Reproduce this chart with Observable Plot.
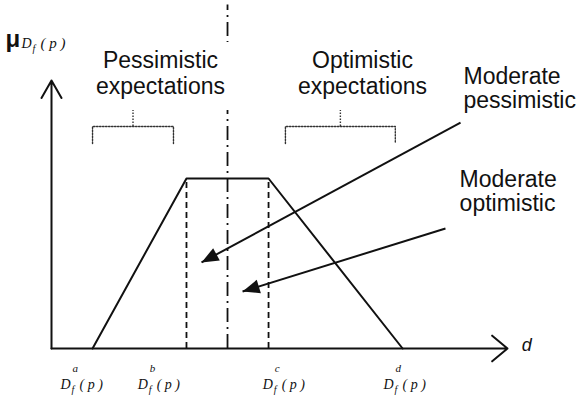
<!DOCTYPE html>
<html><head><meta charset="utf-8">
<script src="https://cdn.jsdelivr.net/npm/d3@7"></script>
<script src="https://cdn.jsdelivr.net/npm/@observablehq/plot@0.6"></script>
<style>body{margin:0;background:#fff}</style>
</head><body><div id="chart"></div>
<script>
// ---- data (x in d-units 0..100 along the axis, y = membership mu) ----
const breakNames = ["a", "b", "c", "d"];
const breakX = [9.0, 29.6, 47.6, 77.0];
const breakMu = [0, 1, 1, 0];
const centerX = 38.6;
const axisEndX = 100;
const axisEndMu = 1.576;
const dashDotTopMu = 2.02;
const tickLabelX = [2.0, 18.9, 46.3, 72.8];
const tickLabelMu = -0.241;
const groupNames = ["Pessimistic\nexpectations", "Optimistic\nexpectations"];
const groupCenterX = [23.9, 68.2];
const groupLabelMu = 1.50;
const bracketX1 = [9.0, 51.3];
const bracketX2 = [26.75, 75.4];
const bracketMu = 1.306;
const bracketEndMu = 1.206;
const bracketTickMu = 1.40;
const labelBoxX = [8.6, 39.7];
const labelBoxMu = [1.40, 1.80];
const moderateNames = ["Moderate\npessimistic", "Moderate\noptimistic"];
const moderateLabelX = [90.35, 89.5];
const moderateLabelMu = [1.412, 0.806];
const arrowFromX = [89.7, 86.4];
const arrowFromMu = [1.329, 0.706];
const arrowToX = [32.9, 41.9];
const arrowToMu = [0.506, 0.335];
const muLabelX = -10.1;
const muLabelMu = 1.771;
const dLabelX = 103.1;
const dLabelMu = -0.012;

// ---- build ----
const xDom = [0, 100], xRng = [51, 507];
const yDom = [0, 1], yRng = [348, 178];
const sx = d3.scaleLinear(xDom, xRng), sy = d3.scaleLinear(yDom, yRng);
const ink = "#111";
const sans = "Liberation Sans, Arial, Helvetica, sans-serif";
const serif = "Liberation Serif, Times New Roman, serif";

const trap = breakX.map((x, i) => ({x, mu: breakMu[i]}));
const brackets = [];
bracketX1.forEach((x1, i) => {
  const x2 = bracketX2[i];
  [[x1, bracketEndMu], [x1, bracketMu], [x2, bracketMu], [x2, bracketEndMu]]
    .forEach(([x, mu]) => brackets.push({x, mu, g: i}));
});
const bracketMid = bracketX1.map((x1, i) => (x1 + bracketX2[i]) / 2);
const arrows = arrowFromX.map((x1, i) => {
  const x2 = arrowToX[i], y1 = arrowFromMu[i], y2 = arrowToMu[i];
  const dx = sx(x2) - sx(x1), dy = sy(y2) - sy(y1);
  return {x1, y1, x2, y2, rot: Math.atan2(dx, -dy) * 180 / Math.PI};
});
const head = {draw(ctx) { ctx.moveTo(0, 0); ctx.lineTo(-7, 17); ctx.lineTo(7, 17); ctx.closePath(); }};
const groups = groupNames.map((t, i) => ({t, x: groupCenterX[i], mu: groupLabelMu}));
const moderates = moderateNames.map((t, i) => ({t, x: moderateLabelX[i], mu: moderateLabelMu[i]}));
const ticks = breakNames.map((n, i) => ({n, x: tickLabelX[i], mu: tickLabelMu}));
const one = [{}];

const chart = Plot.plot({
  width: 588, height: 405, margin: 0,
  x: {domain: xDom, range: xRng, axis: null},
  y: {domain: yDom, range: yRng, axis: null},
  style: {background: "white", overflow: "visible"},
  marks: [
    Plot.ruleX([centerX], {x: d => d, y1: () => 0, y2: () => dashDotTopMu, stroke: ink, strokeWidth: 1.8, strokeDasharray: "14,5,2,5"}),
    Plot.rect(one, {x1: () => labelBoxX[0], x2: () => labelBoxX[1], y1: () => labelBoxMu[0], y2: () => labelBoxMu[1], fill: "white"}),
    Plot.ruleX([breakX[1], breakX[2]], {x: d => d, y1: () => 0, y2: () => 1, stroke: ink, strokeWidth: 1.8, strokeDasharray: "6,4"}),
    Plot.line(trap, {x: "x", y: "mu", stroke: ink, strokeWidth: 2}),
    Plot.arrow(one, {x1: () => 0, y1: () => 0, x2: () => 0, y2: () => axisEndMu, stroke: ink, strokeWidth: 2, headLength: 15, headAngle: 60}),
    Plot.arrow(one, {x1: () => 0, y1: () => 0, x2: () => axisEndX, y2: () => 0, stroke: ink, strokeWidth: 2, headLength: 15, headAngle: 80}),
    Plot.line(brackets, {x: "x", y: "mu", z: "g", stroke: "#333", strokeWidth: 1.4, strokeDasharray: "1.5,1.5"}),
    Plot.ruleX(bracketMid, {x: d => d, y1: () => bracketMu, y2: () => bracketTickMu, stroke: "#333", strokeWidth: 1.4, strokeDasharray: "1.5,1.5"}),
    Plot.link(arrows, {x1: "x1", y1: "y1", x2: "x2", y2: "y2", stroke: ink, strokeWidth: 2}),
    Plot.dot(arrows, {x: "x2", y: "y2", symbol: head, rotate: "rot", fill: ink, stroke: "none", r: 5}),
    Plot.text(groups, {x: "x", y: "mu", text: "t", lineAnchor: "bottom", lineHeight: 1.13, textAnchor: "middle", fontSize: 23, fontFamily: sans, fill: ink}),
    Plot.text(moderates, {x: "x", y: "mu", text: "t", lineAnchor: "bottom", lineHeight: 1.05, textAnchor: "start", fontSize: 23, fontFamily: sans, fill: ink}),
    Plot.text(one, {x: () => dLabelX, y: () => dLabelMu, text: () => "d", lineAnchor: "bottom", textAnchor: "start", fontSize: 18, fontStyle: "italic", fontFamily: sans, fill: ink}),
    // mu label
    Plot.text(one, {x: () => muLabelX, y: () => muLabelMu, text: () => "μ", lineAnchor: "bottom", textAnchor: "start", fontSize: 24, fontWeight: "bold", fontFamily: sans, fill: ink}),
    Plot.text(one, {x: () => muLabelX, y: () => muLabelMu, text: () => "D", dx: 16, dy: 1, lineAnchor: "bottom", textAnchor: "start", fontSize: 14, fontStyle: "italic", fontFamily: serif, fill: ink}),
    Plot.text(one, {x: () => muLabelX, y: () => muLabelMu, text: () => "f", dx: 27, dy: 5, lineAnchor: "bottom", textAnchor: "start", fontSize: 10, fontStyle: "italic", fontFamily: serif, fill: ink}),
    Plot.text(one, {x: () => muLabelX, y: () => muLabelMu, text: () => "( p )", dx: 35, dy: 1, lineAnchor: "bottom", textAnchor: "start", fontSize: 15, fontStyle: "italic", fontFamily: serif, fill: ink}),
    // tick labels D_f^x(p)
    Plot.text(ticks, {x: "x", y: "mu", text: () => "D", lineAnchor: "bottom", textAnchor: "start", fontSize: 14, fontStyle: "italic", fontFamily: serif, fill: ink}),
    Plot.text(ticks, {x: "x", y: "mu", text: "n", dx: 12, dy: -17, lineAnchor: "bottom", textAnchor: "start", fontSize: 11, fontStyle: "italic", fontFamily: serif, fill: ink}),
    Plot.text(ticks, {x: "x", y: "mu", text: () => "f", dx: 11, dy: 4, lineAnchor: "bottom", textAnchor: "start", fontSize: 10, fontStyle: "italic", fontFamily: serif, fill: ink}),
    Plot.text(ticks, {x: "x", y: "mu", text: () => "( p )", dx: 19, lineAnchor: "bottom", textAnchor: "start", fontSize: 14, fontStyle: "italic", fontFamily: serif, fill: ink})
  ]
});
document.getElementById("chart").appendChild(chart);
</script>
</body></html>
